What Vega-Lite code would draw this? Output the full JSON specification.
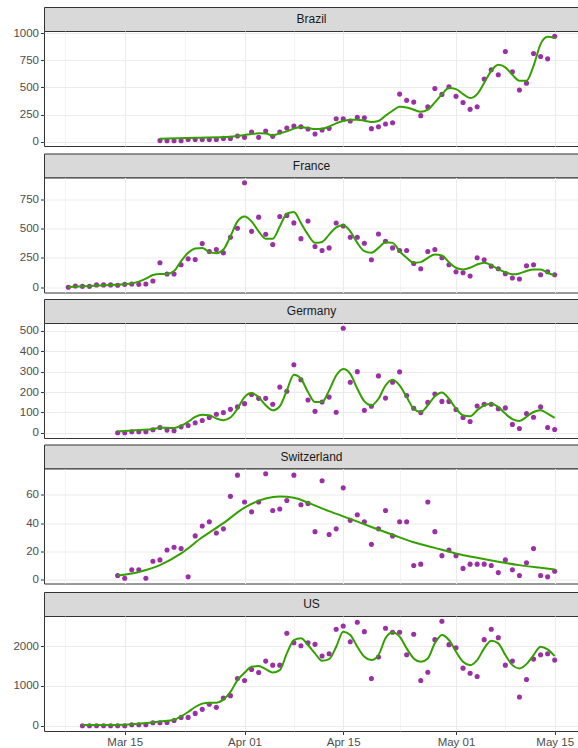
{
  "$schema": "https://vega.github.io/schema/vega-lite/v6.json",
  "padding": {"left": 5, "top": 6, "right": 0, "bottom": 0},
  "config": {
    "font": "Liberation Sans",
    "view": {"stroke": "#333333", "strokeWidth": 1, "fill": "#ffffff"},
    "axis": {"labelFont": "Liberation Sans", "labelFontSize": 11.5, "labelColor": "#4d4d4d", "tickColor": "#333333", "tickSize": 3.5, "labelPadding": 2, "domain": false, "gridColor": "#ebebeb", "labelOverlap": false}
  },
  "datasets": {
    "obs": [
      {"country":"Brazil","date":"2020-03-20","deaths":10},{"country":"Brazil","date":"2020-03-21","deaths":8},{"country":"Brazil","date":"2020-03-22","deaths":8},{"country":"Brazil","date":"2020-03-23","deaths":8},{"country":"Brazil","date":"2020-03-24","deaths":20},{"country":"Brazil","date":"2020-03-25","deaths":20},{"country":"Brazil","date":"2020-03-26","deaths":20},{"country":"Brazil","date":"2020-03-27","deaths":20},{"country":"Brazil","date":"2020-03-28","deaths":20},{"country":"Brazil","date":"2020-03-29","deaths":30},{"country":"Brazil","date":"2020-03-30","deaths":30},{"country":"Brazil","date":"2020-03-31","deaths":52},
      {"country":"Brazil","date":"2020-04-01","deaths":40},{"country":"Brazil","date":"2020-04-02","deaths":89},{"country":"Brazil","date":"2020-04-03","deaths":40},{"country":"Brazil","date":"2020-04-04","deaths":98},{"country":"Brazil","date":"2020-04-05","deaths":49},{"country":"Brazil","date":"2020-04-06","deaths":89},{"country":"Brazil","date":"2020-04-07","deaths":126},{"country":"Brazil","date":"2020-04-08","deaths":144},{"country":"Brazil","date":"2020-04-09","deaths":138},{"country":"Brazil","date":"2020-04-10","deaths":117},{"country":"Brazil","date":"2020-04-11","deaths":71},{"country":"Brazil","date":"2020-04-12","deaths":107},{"country":"Brazil","date":"2020-04-13","deaths":123},{"country":"Brazil","date":"2020-04-14","deaths":212},{"country":"Brazil","date":"2020-04-15","deaths":212},{"country":"Brazil","date":"2020-04-16","deaths":190},{"country":"Brazil","date":"2020-04-17","deaths":224},{"country":"Brazil","date":"2020-04-18","deaths":221},{"country":"Brazil","date":"2020-04-19","deaths":120},{"country":"Brazil","date":"2020-04-20","deaths":138},{"country":"Brazil","date":"2020-04-21","deaths":163},{"country":"Brazil","date":"2020-04-22","deaths":175},{"country":"Brazil","date":"2020-04-23","deaths":439},{"country":"Brazil","date":"2020-04-24","deaths":381},{"country":"Brazil","date":"2020-04-25","deaths":365},{"country":"Brazil","date":"2020-04-26","deaths":240},{"country":"Brazil","date":"2020-04-27","deaths":322},{"country":"Brazil","date":"2020-04-28","deaths":491},{"country":"Brazil","date":"2020-04-29","deaths":436},{"country":"Brazil","date":"2020-04-30","deaths":507},
      {"country":"Brazil","date":"2020-05-01","deaths":418},{"country":"Brazil","date":"2020-05-02","deaths":362},{"country":"Brazil","date":"2020-05-03","deaths":298},{"country":"Brazil","date":"2020-05-04","deaths":322},{"country":"Brazil","date":"2020-05-05","deaths":577},{"country":"Brazil","date":"2020-05-06","deaths":663},{"country":"Brazil","date":"2020-05-07","deaths":617},{"country":"Brazil","date":"2020-05-08","deaths":832},{"country":"Brazil","date":"2020-05-09","deaths":645},{"country":"Brazil","date":"2020-05-10","deaths":476},{"country":"Brazil","date":"2020-05-11","deaths":540},{"country":"Brazil","date":"2020-05-12","deaths":814},{"country":"Brazil","date":"2020-05-13","deaths":786},{"country":"Brazil","date":"2020-05-14","deaths":764},{"country":"Brazil","date":"2020-05-15","deaths":973},

      {"country":"France","date":"2020-03-07","deaths":0},{"country":"France","date":"2020-03-08","deaths":11},{"country":"France","date":"2020-03-09","deaths":8},{"country":"France","date":"2020-03-10","deaths":8},{"country":"France","date":"2020-03-11","deaths":20},{"country":"France","date":"2020-03-12","deaths":20},{"country":"France","date":"2020-03-13","deaths":20},{"country":"France","date":"2020-03-14","deaths":17},{"country":"France","date":"2020-03-15","deaths":25},{"country":"France","date":"2020-03-16","deaths":28},{"country":"France","date":"2020-03-17","deaths":25},{"country":"France","date":"2020-03-18","deaths":28},{"country":"France","date":"2020-03-19","deaths":54},{"country":"France","date":"2020-03-20","deaths":209},{"country":"France","date":"2020-03-21","deaths":113},{"country":"France","date":"2020-03-22","deaths":113},{"country":"France","date":"2020-03-23","deaths":192},{"country":"France","date":"2020-03-24","deaths":242},{"country":"France","date":"2020-03-25","deaths":237},{"country":"France","date":"2020-03-26","deaths":372},{"country":"France","date":"2020-03-27","deaths":304},{"country":"France","date":"2020-03-28","deaths":321},{"country":"France","date":"2020-03-29","deaths":293},{"country":"France","date":"2020-03-30","deaths":426},{"country":"France","date":"2020-03-31","deaths":502},
      {"country":"France","date":"2020-04-01","deaths":890},{"country":"France","date":"2020-04-02","deaths":476},{"country":"France","date":"2020-04-03","deaths":597},{"country":"France","date":"2020-04-04","deaths":451},{"country":"France","date":"2020-04-05","deaths":364},{"country":"France","date":"2020-04-06","deaths":603},{"country":"France","date":"2020-04-07","deaths":612},{"country":"France","date":"2020-04-08","deaths":548},{"country":"France","date":"2020-04-09","deaths":414},{"country":"France","date":"2020-04-10","deaths":564},{"country":"France","date":"2020-04-11","deaths":347},{"country":"France","date":"2020-04-12","deaths":313},{"country":"France","date":"2020-04-13","deaths":335},{"country":"France","date":"2020-04-14","deaths":547},{"country":"France","date":"2020-04-15","deaths":521},{"country":"France","date":"2020-04-16","deaths":426},{"country":"France","date":"2020-04-17","deaths":426},{"country":"France","date":"2020-04-18","deaths":375},{"country":"France","date":"2020-04-19","deaths":234},{"country":"France","date":"2020-04-20","deaths":454},{"country":"France","date":"2020-04-21","deaths":392},{"country":"France","date":"2020-04-22","deaths":335},{"country":"France","date":"2020-04-23","deaths":313},{"country":"France","date":"2020-04-24","deaths":313},{"country":"France","date":"2020-04-25","deaths":203},{"country":"France","date":"2020-04-26","deaths":158},{"country":"France","date":"2020-04-27","deaths":304},{"country":"France","date":"2020-04-28","deaths":321},{"country":"France","date":"2020-04-29","deaths":251},{"country":"France","date":"2020-04-30","deaths":192},
      {"country":"France","date":"2020-05-01","deaths":132},{"country":"France","date":"2020-05-02","deaths":124},{"country":"France","date":"2020-05-03","deaths":96},{"country":"France","date":"2020-05-04","deaths":251},{"country":"France","date":"2020-05-05","deaths":234},{"country":"France","date":"2020-05-06","deaths":180},{"country":"France","date":"2020-05-07","deaths":158},{"country":"France","date":"2020-05-08","deaths":116},{"country":"France","date":"2020-05-09","deaths":79},{"country":"France","date":"2020-05-10","deaths":70},{"country":"France","date":"2020-05-11","deaths":183},{"country":"France","date":"2020-05-12","deaths":192},{"country":"France","date":"2020-05-13","deaths":107},{"country":"France","date":"2020-05-14","deaths":132},{"country":"France","date":"2020-05-15","deaths":107},

      {"country":"Germany","date":"2020-03-14","deaths":0},{"country":"Germany","date":"2020-03-15","deaths":0},{"country":"Germany","date":"2020-03-16","deaths":5},{"country":"Germany","date":"2020-03-17","deaths":5},{"country":"Germany","date":"2020-03-18","deaths":5},{"country":"Germany","date":"2020-03-19","deaths":15},{"country":"Germany","date":"2020-03-20","deaths":26},{"country":"Germany","date":"2020-03-21","deaths":13},{"country":"Germany","date":"2020-03-22","deaths":10},{"country":"Germany","date":"2020-03-23","deaths":29},{"country":"Germany","date":"2020-03-24","deaths":36},{"country":"Germany","date":"2020-03-25","deaths":49},{"country":"Germany","date":"2020-03-26","deaths":60},{"country":"Germany","date":"2020-03-27","deaths":75},{"country":"Germany","date":"2020-03-28","deaths":91},{"country":"Germany","date":"2020-03-29","deaths":99},{"country":"Germany","date":"2020-03-30","deaths":115},{"country":"Germany","date":"2020-03-31","deaths":127},
      {"country":"Germany","date":"2020-04-01","deaths":143},{"country":"Germany","date":"2020-04-02","deaths":188},{"country":"Germany","date":"2020-04-03","deaths":169},{"country":"Germany","date":"2020-04-04","deaths":169},{"country":"Germany","date":"2020-04-05","deaths":140},{"country":"Germany","date":"2020-04-06","deaths":224},{"country":"Germany","date":"2020-04-07","deaths":204},{"country":"Germany","date":"2020-04-08","deaths":334},{"country":"Germany","date":"2020-04-09","deaths":260},{"country":"Germany","date":"2020-04-10","deaths":161},{"country":"Germany","date":"2020-04-11","deaths":105},{"country":"Germany","date":"2020-04-12","deaths":151},{"country":"Germany","date":"2020-04-13","deaths":175},{"country":"Germany","date":"2020-04-14","deaths":101},{"country":"Germany","date":"2020-04-15","deaths":513},{"country":"Germany","date":"2020-04-16","deaths":248},{"country":"Germany","date":"2020-04-17","deaths":300},{"country":"Germany","date":"2020-04-18","deaths":110},{"country":"Germany","date":"2020-04-19","deaths":130},{"country":"Germany","date":"2020-04-20","deaths":279},{"country":"Germany","date":"2020-04-21","deaths":170},{"country":"Germany","date":"2020-04-22","deaths":248},{"country":"Germany","date":"2020-04-23","deaths":299},{"country":"Germany","date":"2020-04-24","deaths":183},{"country":"Germany","date":"2020-04-25","deaths":120},{"country":"Germany","date":"2020-04-26","deaths":99},{"country":"Germany","date":"2020-04-27","deaths":149},{"country":"Germany","date":"2020-04-28","deaths":190},{"country":"Germany","date":"2020-04-29","deaths":154},{"country":"Germany","date":"2020-04-30","deaths":154},
      {"country":"Germany","date":"2020-05-01","deaths":114},{"country":"Germany","date":"2020-05-02","deaths":75},{"country":"Germany","date":"2020-05-03","deaths":55},{"country":"Germany","date":"2020-05-04","deaths":131},{"country":"Germany","date":"2020-05-05","deaths":140},{"country":"Germany","date":"2020-05-06","deaths":140},{"country":"Germany","date":"2020-05-07","deaths":118},{"country":"Germany","date":"2020-05-08","deaths":122},{"country":"Germany","date":"2020-05-09","deaths":41},{"country":"Germany","date":"2020-05-10","deaths":21},{"country":"Germany","date":"2020-05-11","deaths":94},{"country":"Germany","date":"2020-05-12","deaths":76},{"country":"Germany","date":"2020-05-13","deaths":127},{"country":"Germany","date":"2020-05-14","deaths":26},{"country":"Germany","date":"2020-05-15","deaths":16},

      {"country":"Switzerland","date":"2020-03-14","deaths":3},{"country":"Switzerland","date":"2020-03-15","deaths":1},{"country":"Switzerland","date":"2020-03-16","deaths":7},{"country":"Switzerland","date":"2020-03-17","deaths":7},{"country":"Switzerland","date":"2020-03-18","deaths":1},{"country":"Switzerland","date":"2020-03-19","deaths":13},{"country":"Switzerland","date":"2020-03-20","deaths":14},{"country":"Switzerland","date":"2020-03-21","deaths":21},{"country":"Switzerland","date":"2020-03-22","deaths":23},{"country":"Switzerland","date":"2020-03-23","deaths":22},{"country":"Switzerland","date":"2020-03-24","deaths":2},{"country":"Switzerland","date":"2020-03-25","deaths":31},{"country":"Switzerland","date":"2020-03-26","deaths":38},{"country":"Switzerland","date":"2020-03-27","deaths":41},{"country":"Switzerland","date":"2020-03-28","deaths":33},{"country":"Switzerland","date":"2020-03-29","deaths":36},{"country":"Switzerland","date":"2020-03-30","deaths":59},{"country":"Switzerland","date":"2020-03-31","deaths":74},
      {"country":"Switzerland","date":"2020-04-01","deaths":55},{"country":"Switzerland","date":"2020-04-02","deaths":48},{"country":"Switzerland","date":"2020-04-03","deaths":55},{"country":"Switzerland","date":"2020-04-04","deaths":75},{"country":"Switzerland","date":"2020-04-05","deaths":49},{"country":"Switzerland","date":"2020-04-06","deaths":50},{"country":"Switzerland","date":"2020-04-07","deaths":56},{"country":"Switzerland","date":"2020-04-08","deaths":74},{"country":"Switzerland","date":"2020-04-09","deaths":53},{"country":"Switzerland","date":"2020-04-10","deaths":54},{"country":"Switzerland","date":"2020-04-11","deaths":34},{"country":"Switzerland","date":"2020-04-12","deaths":70},{"country":"Switzerland","date":"2020-04-13","deaths":32},{"country":"Switzerland","date":"2020-04-14","deaths":36},{"country":"Switzerland","date":"2020-04-15","deaths":65},{"country":"Switzerland","date":"2020-04-16","deaths":42},{"country":"Switzerland","date":"2020-04-17","deaths":46},{"country":"Switzerland","date":"2020-04-18","deaths":41},{"country":"Switzerland","date":"2020-04-19","deaths":25},{"country":"Switzerland","date":"2020-04-20","deaths":36},{"country":"Switzerland","date":"2020-04-21","deaths":49},{"country":"Switzerland","date":"2020-04-22","deaths":31},{"country":"Switzerland","date":"2020-04-23","deaths":41},{"country":"Switzerland","date":"2020-04-24","deaths":41},{"country":"Switzerland","date":"2020-04-25","deaths":10},{"country":"Switzerland","date":"2020-04-26","deaths":11},{"country":"Switzerland","date":"2020-04-27","deaths":55},{"country":"Switzerland","date":"2020-04-28","deaths":34},{"country":"Switzerland","date":"2020-04-29","deaths":17},{"country":"Switzerland","date":"2020-04-30","deaths":21},
      {"country":"Switzerland","date":"2020-05-01","deaths":17},{"country":"Switzerland","date":"2020-05-02","deaths":8},{"country":"Switzerland","date":"2020-05-03","deaths":11},{"country":"Switzerland","date":"2020-05-04","deaths":11},{"country":"Switzerland","date":"2020-05-05","deaths":11},{"country":"Switzerland","date":"2020-05-06","deaths":10},{"country":"Switzerland","date":"2020-05-07","deaths":5},{"country":"Switzerland","date":"2020-05-08","deaths":14},{"country":"Switzerland","date":"2020-05-09","deaths":7},{"country":"Switzerland","date":"2020-05-10","deaths":3},{"country":"Switzerland","date":"2020-05-11","deaths":12},{"country":"Switzerland","date":"2020-05-12","deaths":22},{"country":"Switzerland","date":"2020-05-13","deaths":3},{"country":"Switzerland","date":"2020-05-14","deaths":2},{"country":"Switzerland","date":"2020-05-15","deaths":6},

      {"country":"US","date":"2020-03-09","deaths":0},{"country":"US","date":"2020-03-10","deaths":0},{"country":"US","date":"2020-03-11","deaths":0},{"country":"US","date":"2020-03-12","deaths":0},{"country":"US","date":"2020-03-13","deaths":0},{"country":"US","date":"2020-03-14","deaths":0},{"country":"US","date":"2020-03-15","deaths":0},{"country":"US","date":"2020-03-16","deaths":25},{"country":"US","date":"2020-03-17","deaths":25},{"country":"US","date":"2020-03-18","deaths":25},{"country":"US","date":"2020-03-19","deaths":76},{"country":"US","date":"2020-03-20","deaths":76},{"country":"US","date":"2020-03-21","deaths":84},{"country":"US","date":"2020-03-22","deaths":134},{"country":"US","date":"2020-03-23","deaths":210},{"country":"US","date":"2020-03-24","deaths":210},{"country":"US","date":"2020-03-25","deaths":311},{"country":"US","date":"2020-03-26","deaths":412},{"country":"US","date":"2020-03-27","deaths":538},{"country":"US","date":"2020-03-28","deaths":462},{"country":"US","date":"2020-03-29","deaths":697},{"country":"US","date":"2020-03-30","deaths":756},{"country":"US","date":"2020-03-31","deaths":1185},
      {"country":"US","date":"2020-04-01","deaths":1134},{"country":"US","date":"2020-04-02","deaths":1412},{"country":"US","date":"2020-04-03","deaths":1336},{"country":"US","date":"2020-04-04","deaths":1622},{"country":"US","date":"2020-04-05","deaths":1521},{"country":"US","date":"2020-04-06","deaths":1521},{"country":"US","date":"2020-04-07","deaths":2319},{"country":"US","date":"2020-04-08","deaths":2084},{"country":"US","date":"2020-04-09","deaths":2008},{"country":"US","date":"2020-04-10","deaths":2084},{"country":"US","date":"2020-04-11","deaths":2042},{"country":"US","date":"2020-04-12","deaths":1748},{"country":"US","date":"2020-04-13","deaths":1807},{"country":"US","date":"2020-04-14","deaths":2420},{"country":"US","date":"2020-04-15","deaths":2504},{"country":"US","date":"2020-04-16","deaths":2109},{"country":"US","date":"2020-04-17","deaths":2597},{"country":"US","date":"2020-04-18","deaths":2361},{"country":"US","date":"2020-04-19","deaths":1185},{"country":"US","date":"2020-04-20","deaths":1723},{"country":"US","date":"2020-04-21","deaths":2445},{"country":"US","date":"2020-04-22","deaths":2344},{"country":"US","date":"2020-04-23","deaths":2344},{"country":"US","date":"2020-04-24","deaths":1781},{"country":"US","date":"2020-04-25","deaths":2294},{"country":"US","date":"2020-04-26","deaths":1134},{"country":"US","date":"2020-04-27","deaths":1344},{"country":"US","date":"2020-04-28","deaths":2160},{"country":"US","date":"2020-04-29","deaths":2622},{"country":"US","date":"2020-04-30","deaths":2034},
      {"country":"US","date":"2020-05-01","deaths":1958},{"country":"US","date":"2020-05-02","deaths":1445},{"country":"US","date":"2020-05-03","deaths":1319},{"country":"US","date":"2020-05-04","deaths":1235},{"country":"US","date":"2020-05-05","deaths":2160},{"country":"US","date":"2020-05-06","deaths":2420},{"country":"US","date":"2020-05-07","deaths":2210},{"country":"US","date":"2020-05-08","deaths":1521},{"country":"US","date":"2020-05-09","deaths":1622},{"country":"US","date":"2020-05-10","deaths":723},{"country":"US","date":"2020-05-11","deaths":1160},{"country":"US","date":"2020-05-12","deaths":1672},{"country":"US","date":"2020-05-13","deaths":1781},{"country":"US","date":"2020-05-14","deaths":1807},{"country":"US","date":"2020-05-15","deaths":1647}
    ],
    "fit": [
      {"country":"Brazil","date":"2020-03-20","fit":28},{"country":"Brazil","date":"2020-03-25","fit":37},{"country":"Brazil","date":"2020-03-30","fit":46},{"country":"Brazil","date":"2020-04-01","fit":61},{"country":"Brazil","date":"2020-04-02","fit":70},{"country":"Brazil","date":"2020-04-03","fit":77},{"country":"Brazil","date":"2020-04-04","fit":75},{"country":"Brazil","date":"2020-04-05","fit":58},{"country":"Brazil","date":"2020-04-06","fit":77},{"country":"Brazil","date":"2020-04-07","fit":95},{"country":"Brazil","date":"2020-04-08","fit":120},{"country":"Brazil","date":"2020-04-09","fit":132},{"country":"Brazil","date":"2020-04-10","fit":126},{"country":"Brazil","date":"2020-04-11","fit":117},{"country":"Brazil","date":"2020-04-12","fit":120},{"country":"Brazil","date":"2020-04-13","fit":138},{"country":"Brazil","date":"2020-04-14","fit":169},{"country":"Brazil","date":"2020-04-15","fit":190},{"country":"Brazil","date":"2020-04-16","fit":203},{"country":"Brazil","date":"2020-04-17","fit":203},{"country":"Brazil","date":"2020-04-18","fit":193},{"country":"Brazil","date":"2020-04-19","fit":181},{"country":"Brazil","date":"2020-04-20","fit":190},{"country":"Brazil","date":"2020-04-21","fit":240},{"country":"Brazil","date":"2020-04-22","fit":285},{"country":"Brazil","date":"2020-04-23","fit":322},{"country":"Brazil","date":"2020-04-24","fit":316},{"country":"Brazil","date":"2020-04-25","fit":295},{"country":"Brazil","date":"2020-04-26","fit":276},{"country":"Brazil","date":"2020-04-27","fit":295},{"country":"Brazil","date":"2020-04-28","fit":362},{"country":"Brazil","date":"2020-04-29","fit":436},{"country":"Brazil","date":"2020-04-30","fit":494},{"country":"Brazil","date":"2020-05-01","fit":485},{"country":"Brazil","date":"2020-05-02","fit":439},{"country":"Brazil","date":"2020-05-03","fit":402},{"country":"Brazil","date":"2020-05-04","fit":439},{"country":"Brazil","date":"2020-05-05","fit":543},{"country":"Brazil","date":"2020-05-06","fit":654},{"country":"Brazil","date":"2020-05-07","fit":709},{"country":"Brazil","date":"2020-05-08","fit":685},{"country":"Brazil","date":"2020-05-09","fit":617},{"country":"Brazil","date":"2020-05-10","fit":562},{"country":"Brazil","date":"2020-05-11","fit":562},{"country":"Brazil","date":"2020-05-12","fit":700},{"country":"Brazil","date":"2020-05-13","fit":900},{"country":"Brazil","date":"2020-05-14","fit":967},{"country":"Brazil","date":"2020-05-15","fit":955},

      {"country":"France","date":"2020-03-07","fit":3},{"country":"France","date":"2020-03-10","fit":11},{"country":"France","date":"2020-03-13","fit":20},{"country":"France","date":"2020-03-15","fit":25},{"country":"France","date":"2020-03-17","fit":48},{"country":"France","date":"2020-03-18","fit":73},{"country":"France","date":"2020-03-19","fit":104},{"country":"France","date":"2020-03-20","fit":113},{"country":"France","date":"2020-03-21","fit":113},{"country":"France","date":"2020-03-22","fit":138},{"country":"France","date":"2020-03-23","fit":223},{"country":"France","date":"2020-03-24","fit":293},{"country":"France","date":"2020-03-25","fit":330},{"country":"France","date":"2020-03-26","fit":335},{"country":"France","date":"2020-03-27","fit":299},{"country":"France","date":"2020-03-28","fit":290},{"country":"France","date":"2020-03-29","fit":321},{"country":"France","date":"2020-03-30","fit":434},{"country":"France","date":"2020-03-31","fit":561},{"country":"France","date":"2020-04-01","fit":603},{"country":"France","date":"2020-04-02","fit":561},{"country":"France","date":"2020-04-03","fit":476},{"country":"France","date":"2020-04-04","fit":414},{"country":"France","date":"2020-04-05","fit":414},{"country":"France","date":"2020-04-06","fit":518},{"country":"France","date":"2020-04-07","fit":626},{"country":"France","date":"2020-04-08","fit":640},{"country":"France","date":"2020-04-09","fit":547},{"country":"France","date":"2020-04-10","fit":448},{"country":"France","date":"2020-04-11","fit":378},{"country":"France","date":"2020-04-12","fit":386},{"country":"France","date":"2020-04-13","fit":448},{"country":"France","date":"2020-04-14","fit":510},{"country":"France","date":"2020-04-15","fit":527},{"country":"France","date":"2020-04-16","fit":476},{"country":"France","date":"2020-04-17","fit":378},{"country":"France","date":"2020-04-18","fit":307},{"country":"France","date":"2020-04-19","fit":293},{"country":"France","date":"2020-04-20","fit":335},{"country":"France","date":"2020-04-21","fit":383},{"country":"France","date":"2020-04-22","fit":378},{"country":"France","date":"2020-04-23","fit":307},{"country":"France","date":"2020-04-24","fit":251},{"country":"France","date":"2020-04-25","fit":209},{"country":"France","date":"2020-04-26","fit":214},{"country":"France","date":"2020-04-27","fit":251},{"country":"France","date":"2020-04-28","fit":279},{"country":"France","date":"2020-04-29","fit":271},{"country":"France","date":"2020-04-30","fit":214},{"country":"France","date":"2020-05-01","fit":166},{"country":"France","date":"2020-05-02","fit":152},{"country":"France","date":"2020-05-03","fit":166},{"country":"France","date":"2020-05-04","fit":194},{"country":"France","date":"2020-05-05","fit":209},{"country":"France","date":"2020-05-06","fit":189},{"country":"France","date":"2020-05-07","fit":152},{"country":"France","date":"2020-05-08","fit":130},{"country":"France","date":"2020-05-09","fit":110},{"country":"France","date":"2020-05-10","fit":118},{"country":"France","date":"2020-05-11","fit":138},{"country":"France","date":"2020-05-12","fit":152},{"country":"France","date":"2020-05-13","fit":152},{"country":"France","date":"2020-05-14","fit":124},{"country":"France","date":"2020-05-15","fit":101},

      {"country":"Germany","date":"2020-03-14","fit":6},{"country":"Germany","date":"2020-03-17","fit":13},{"country":"Germany","date":"2020-03-19","fit":18},{"country":"Germany","date":"2020-03-20","fit":24},{"country":"Germany","date":"2020-03-21","fit":24},{"country":"Germany","date":"2020-03-22","fit":23},{"country":"Germany","date":"2020-03-23","fit":34},{"country":"Germany","date":"2020-03-24","fit":54},{"country":"Germany","date":"2020-03-25","fit":78},{"country":"Germany","date":"2020-03-26","fit":89},{"country":"Germany","date":"2020-03-27","fit":86},{"country":"Germany","date":"2020-03-28","fit":70},{"country":"Germany","date":"2020-03-29","fit":62},{"country":"Germany","date":"2020-03-30","fit":75},{"country":"Germany","date":"2020-03-31","fit":118},{"country":"Germany","date":"2020-04-01","fit":175},{"country":"Germany","date":"2020-04-02","fit":195},{"country":"Germany","date":"2020-04-03","fit":175},{"country":"Germany","date":"2020-04-04","fit":135},{"country":"Germany","date":"2020-04-05","fit":110},{"country":"Germany","date":"2020-04-06","fit":130},{"country":"Germany","date":"2020-04-07","fit":208},{"country":"Germany","date":"2020-04-08","fit":285},{"country":"Germany","date":"2020-04-09","fit":265},{"country":"Germany","date":"2020-04-10","fit":200},{"country":"Germany","date":"2020-04-11","fit":151},{"country":"Germany","date":"2020-04-12","fit":151},{"country":"Germany","date":"2020-04-13","fit":208},{"country":"Germany","date":"2020-04-14","fit":281},{"country":"Germany","date":"2020-04-15","fit":313},{"country":"Germany","date":"2020-04-16","fit":289},{"country":"Germany","date":"2020-04-17","fit":216},{"country":"Germany","date":"2020-04-18","fit":154},{"country":"Germany","date":"2020-04-19","fit":135},{"country":"Germany","date":"2020-04-20","fit":167},{"country":"Germany","date":"2020-04-21","fit":232},{"country":"Germany","date":"2020-04-22","fit":260},{"country":"Germany","date":"2020-04-23","fit":232},{"country":"Germany","date":"2020-04-24","fit":175},{"country":"Germany","date":"2020-04-25","fit":118},{"country":"Germany","date":"2020-04-26","fit":102},{"country":"Germany","date":"2020-04-27","fit":135},{"country":"Germany","date":"2020-04-28","fit":179},{"country":"Germany","date":"2020-04-29","fit":198},{"country":"Germany","date":"2020-04-30","fit":167},{"country":"Germany","date":"2020-05-01","fit":118},{"country":"Germany","date":"2020-05-02","fit":86},{"country":"Germany","date":"2020-05-03","fit":81},{"country":"Germany","date":"2020-05-04","fit":110},{"country":"Germany","date":"2020-05-05","fit":135},{"country":"Germany","date":"2020-05-06","fit":143},{"country":"Germany","date":"2020-05-07","fit":127},{"country":"Germany","date":"2020-05-08","fit":94},{"country":"Germany","date":"2020-05-09","fit":67},{"country":"Germany","date":"2020-05-10","fit":58},{"country":"Germany","date":"2020-05-11","fit":78},{"country":"Germany","date":"2020-05-12","fit":102},{"country":"Germany","date":"2020-05-13","fit":110},{"country":"Germany","date":"2020-05-14","fit":94},{"country":"Germany","date":"2020-05-15","fit":73},

      {"country":"Switzerland","date":"2020-03-14","fit":2.9},{"country":"Switzerland","date":"2020-03-17","fit":5.5},{"country":"Switzerland","date":"2020-03-20","fit":10.3},{"country":"Switzerland","date":"2020-03-23","fit":18.6},{"country":"Switzerland","date":"2020-03-26","fit":30},{"country":"Switzerland","date":"2020-03-29","fit":40},{"country":"Switzerland","date":"2020-04-01","fit":51},{"country":"Switzerland","date":"2020-04-04","fit":57.4},{"country":"Switzerland","date":"2020-04-06","fit":58.8},{"country":"Switzerland","date":"2020-04-08","fit":58},{"country":"Switzerland","date":"2020-04-10","fit":54.5},{"country":"Switzerland","date":"2020-04-13","fit":48.5},{"country":"Switzerland","date":"2020-04-16","fit":43},{"country":"Switzerland","date":"2020-04-19","fit":37.3},{"country":"Switzerland","date":"2020-04-22","fit":31.8},{"country":"Switzerland","date":"2020-04-25","fit":26.5},{"country":"Switzerland","date":"2020-04-28","fit":22.5},{"country":"Switzerland","date":"2020-05-01","fit":18.6},{"country":"Switzerland","date":"2020-05-04","fit":15.5},{"country":"Switzerland","date":"2020-05-07","fit":12.7},{"country":"Switzerland","date":"2020-05-10","fit":10.3},{"country":"Switzerland","date":"2020-05-13","fit":8.4},{"country":"Switzerland","date":"2020-05-15","fit":7.2},

      {"country":"US","date":"2020-03-09","fit":17},{"country":"US","date":"2020-03-12","fit":20},{"country":"US","date":"2020-03-15","fit":25},{"country":"US","date":"2020-03-18","fit":67},{"country":"US","date":"2020-03-20","fit":109},{"country":"US","date":"2020-03-22","fit":151},{"country":"US","date":"2020-03-23","fit":235},{"country":"US","date":"2020-03-24","fit":345},{"country":"US","date":"2020-03-25","fit":471},{"country":"US","date":"2020-03-26","fit":555},{"country":"US","date":"2020-03-27","fit":580},{"country":"US","date":"2020-03-28","fit":580},{"country":"US","date":"2020-03-29","fit":655},{"country":"US","date":"2020-03-30","fit":849},{"country":"US","date":"2020-03-31","fit":1143},{"country":"US","date":"2020-04-01","fit":1328},{"country":"US","date":"2020-04-02","fit":1479},{"country":"US","date":"2020-04-03","fit":1496},{"country":"US","date":"2020-04-04","fit":1420},{"country":"US","date":"2020-04-05","fit":1336},{"country":"US","date":"2020-04-06","fit":1395},{"country":"US","date":"2020-04-07","fit":1815},{"country":"US","date":"2020-04-08","fit":2150},{"country":"US","date":"2020-04-09","fit":2193},{"country":"US","date":"2020-04-10","fit":2025},{"country":"US","date":"2020-04-11","fit":1815},{"country":"US","date":"2020-04-12","fit":1630},{"country":"US","date":"2020-04-13","fit":1672},{"country":"US","date":"2020-04-14","fit":1983},{"country":"US","date":"2020-04-15","fit":2361},{"country":"US","date":"2020-04-16","fit":2277},{"country":"US","date":"2020-04-17","fit":1983},{"country":"US","date":"2020-04-18","fit":1731},{"country":"US","date":"2020-04-19","fit":1647},{"country":"US","date":"2020-04-20","fit":1773},{"country":"US","date":"2020-04-21","fit":2193},{"country":"US","date":"2020-04-22","fit":2344},{"country":"US","date":"2020-04-23","fit":2235},{"country":"US","date":"2020-04-24","fit":1941},{"country":"US","date":"2020-04-25","fit":1689},{"country":"US","date":"2020-04-26","fit":1605},{"country":"US","date":"2020-04-27","fit":1689},{"country":"US","date":"2020-04-28","fit":2067},{"country":"US","date":"2020-04-29","fit":2277},{"country":"US","date":"2020-04-30","fit":2151},{"country":"US","date":"2020-05-01","fit":1857},{"country":"US","date":"2020-05-02","fit":1605},{"country":"US","date":"2020-05-03","fit":1521},{"country":"US","date":"2020-05-04","fit":1647},{"country":"US","date":"2020-05-05","fit":1941},{"country":"US","date":"2020-05-06","fit":2134},{"country":"US","date":"2020-05-07","fit":2067},{"country":"US","date":"2020-05-08","fit":1773},{"country":"US","date":"2020-05-09","fit":1521},{"country":"US","date":"2020-05-10","fit":1437},{"country":"US","date":"2020-05-11","fit":1546},{"country":"US","date":"2020-05-12","fit":1773},{"country":"US","date":"2020-05-13","fit":1983},{"country":"US","date":"2020-05-14","fit":1916},{"country":"US","date":"2020-05-15","fit":1748}
    ]
  },
  "spacing": 4.5,
  "vconcat": [
    {"spacing": 0, "bounds": "flush", "vconcat": [
      {"width": 535, "height": 24, "view": {"fill": "#d9d9d9", "stroke": "#333333"}, "data": {"name": "obs"}, "transform": [{"filter": "datum.country === 'Brazil'"}, {"aggregate": [{"op": "count", "as": "n"}], "groupby": ["country"]}], "mark": {"type": "text", "fontSize": 12, "color": "#1a1a1a"}, "encoding": {"text": {"field": "country"}}},
      {"width": 535, "height": 115, "resolve": {"axis": {"y": "independent"}}, "layer": [
        {"data": {"name": "obs"}, "transform": [{"filter": "datum.country === 'Brazil'"}], "mark": {"type": "circle", "color": "#9b30a6", "size": 26, "opacity": 1},
         "encoding": {
          "x": {"field": "date", "type": "temporal", "title": null, "scale": {"type": "utc", "domain": [{"year":2020,"month":3,"date":3,"hours":13,"minutes":12,"utc":true},{"year":2020,"month":5,"date":18,"hours":10,"minutes":48,"utc":true}]}, "axis": {"values": [{"year":2020,"month":3,"date":6,"hours":12,"utc":true},{"year":2020,"month":3,"date":15,"utc":true},{"year":2020,"month":3,"date":23,"hours":12,"utc":true},{"year":2020,"month":4,"date":1,"utc":true},{"year":2020,"month":4,"date":8,"utc":true},{"year":2020,"month":4,"date":15,"utc":true},{"year":2020,"month":4,"date":23,"utc":true},{"year":2020,"month":5,"date":1,"utc":true},{"year":2020,"month":5,"date":8,"utc":true},{"year":2020,"month":5,"date":15,"utc":true}], "labels": false, "ticks": false, "gridWidth": {"condition": {"test": "utcdate(datum.value) === 1 || utcdate(datum.value) === 15", "value": 1.1}, "value": 0.55}}},
          "y": {"field": "deaths", "type": "quantitative", "title": null, "scale": {"domain": [-40, 1021], "nice": false, "zero": false}, "axis": {"values": [0,250,500,750,1000], "format": "d", "gridWidth": 1.1, "minExtent": 38, "maxExtent": 38}}
         }},
        {"data": {"name": "fit"}, "transform": [{"filter": "datum.country === 'Brazil'"}], "mark": {"type": "line", "color": "#33a000", "strokeWidth": 2, "interpolate": "monotone"},
         "encoding": {"x": {"field": "date", "type": "temporal", "title": null}, "y": {"field": "fit", "type": "quantitative", "title": null, "axis": {"orient": "right", "values": [125,375,625,875], "labels": false, "ticks": false, "domain": false, "gridWidth": 0.55, "minExtent": 0, "maxExtent": 0}}}}
      ]}
    ]},
    {"spacing": 0, "bounds": "flush", "vconcat": [
      {"width": 535, "height": 24, "view": {"fill": "#d9d9d9", "stroke": "#333333"}, "data": {"name": "obs"}, "transform": [{"filter": "datum.country === 'France'"}, {"aggregate": [{"op": "count", "as": "n"}], "groupby": ["country"]}], "mark": {"type": "text", "fontSize": 12, "color": "#1a1a1a"}, "encoding": {"text": {"field": "country"}}},
      {"width": 535, "height": 115, "resolve": {"axis": {"y": "independent"}}, "layer": [
        {"data": {"name": "obs"}, "transform": [{"filter": "datum.country === 'France'"}], "mark": {"type": "circle", "color": "#9b30a6", "size": 26, "opacity": 1},
         "encoding": {
          "x": {"field": "date", "type": "temporal", "title": null, "scale": {"type": "utc", "domain": [{"year":2020,"month":3,"date":3,"hours":13,"minutes":12,"utc":true},{"year":2020,"month":5,"date":18,"hours":10,"minutes":48,"utc":true}]}, "axis": {"values": [{"year":2020,"month":3,"date":6,"hours":12,"utc":true},{"year":2020,"month":3,"date":15,"utc":true},{"year":2020,"month":3,"date":23,"hours":12,"utc":true},{"year":2020,"month":4,"date":1,"utc":true},{"year":2020,"month":4,"date":8,"utc":true},{"year":2020,"month":4,"date":15,"utc":true},{"year":2020,"month":4,"date":23,"utc":true},{"year":2020,"month":5,"date":1,"utc":true},{"year":2020,"month":5,"date":8,"utc":true},{"year":2020,"month":5,"date":15,"utc":true}], "labels": false, "ticks": false, "gridWidth": {"condition": {"test": "utcdate(datum.value) === 1 || utcdate(datum.value) === 15", "value": 1.1}, "value": 0.55}}},
          "y": {"field": "deaths", "type": "quantitative", "title": null, "scale": {"domain": [-44.5, 934.5], "nice": false, "zero": false}, "axis": {"values": [0,250,500,750], "format": "d", "gridWidth": 1.1, "minExtent": 38, "maxExtent": 38}}
         }},
        {"data": {"name": "fit"}, "transform": [{"filter": "datum.country === 'France'"}], "mark": {"type": "line", "color": "#33a000", "strokeWidth": 2, "interpolate": "monotone"},
         "encoding": {"x": {"field": "date", "type": "temporal", "title": null}, "y": {"field": "fit", "type": "quantitative", "title": null, "axis": {"orient": "right", "values": [125,375,625,875], "labels": false, "ticks": false, "domain": false, "gridWidth": 0.55, "minExtent": 0, "maxExtent": 0}}}}
      ]}
    ]},
    {"spacing": 0, "bounds": "flush", "vconcat": [
      {"width": 535, "height": 24, "view": {"fill": "#d9d9d9", "stroke": "#333333"}, "data": {"name": "obs"}, "transform": [{"filter": "datum.country === 'Germany'"}, {"aggregate": [{"op": "count", "as": "n"}], "groupby": ["country"]}], "mark": {"type": "text", "fontSize": 12, "color": "#1a1a1a"}, "encoding": {"text": {"field": "country"}}},
      {"width": 535, "height": 115, "resolve": {"axis": {"y": "independent"}}, "layer": [
        {"data": {"name": "obs"}, "transform": [{"filter": "datum.country === 'Germany'"}], "mark": {"type": "circle", "color": "#9b30a6", "size": 26, "opacity": 1},
         "encoding": {
          "x": {"field": "date", "type": "temporal", "title": null, "scale": {"type": "utc", "domain": [{"year":2020,"month":3,"date":3,"hours":13,"minutes":12,"utc":true},{"year":2020,"month":5,"date":18,"hours":10,"minutes":48,"utc":true}]}, "axis": {"values": [{"year":2020,"month":3,"date":6,"hours":12,"utc":true},{"year":2020,"month":3,"date":15,"utc":true},{"year":2020,"month":3,"date":23,"hours":12,"utc":true},{"year":2020,"month":4,"date":1,"utc":true},{"year":2020,"month":4,"date":8,"utc":true},{"year":2020,"month":4,"date":15,"utc":true},{"year":2020,"month":4,"date":23,"utc":true},{"year":2020,"month":5,"date":1,"utc":true},{"year":2020,"month":5,"date":8,"utc":true},{"year":2020,"month":5,"date":15,"utc":true}], "labels": false, "ticks": false, "gridWidth": {"condition": {"test": "utcdate(datum.value) === 1 || utcdate(datum.value) === 15", "value": 1.1}, "value": 0.55}}},
          "y": {"field": "deaths", "type": "quantitative", "title": null, "scale": {"domain": [-25.7, 538.7], "nice": false, "zero": false}, "axis": {"values": [0,100,200,300,400,500], "format": "d", "gridWidth": 1.1, "minExtent": 38, "maxExtent": 38}}
         }},
        {"data": {"name": "fit"}, "transform": [{"filter": "datum.country === 'Germany'"}], "mark": {"type": "line", "color": "#33a000", "strokeWidth": 2, "interpolate": "monotone"},
         "encoding": {"x": {"field": "date", "type": "temporal", "title": null}, "y": {"field": "fit", "type": "quantitative", "title": null, "axis": {"orient": "right", "values": [50,150,250,350,450], "labels": false, "ticks": false, "domain": false, "gridWidth": 0.55, "minExtent": 0, "maxExtent": 0}}}}
      ]}
    ]},
    {"spacing": 0, "bounds": "flush", "vconcat": [
      {"width": 535, "height": 24, "view": {"fill": "#d9d9d9", "stroke": "#333333"}, "data": {"name": "obs"}, "transform": [{"filter": "datum.country === 'Switzerland'"}, {"aggregate": [{"op": "count", "as": "n"}], "groupby": ["country"]}], "mark": {"type": "text", "fontSize": 12, "color": "#1a1a1a"}, "encoding": {"text": {"field": "country"}}},
      {"width": 535, "height": 115, "resolve": {"axis": {"y": "independent"}}, "layer": [
        {"data": {"name": "obs"}, "transform": [{"filter": "datum.country === 'Switzerland'"}], "mark": {"type": "circle", "color": "#9b30a6", "size": 26, "opacity": 1},
         "encoding": {
          "x": {"field": "date", "type": "temporal", "title": null, "scale": {"type": "utc", "domain": [{"year":2020,"month":3,"date":3,"hours":13,"minutes":12,"utc":true},{"year":2020,"month":5,"date":18,"hours":10,"minutes":48,"utc":true}]}, "axis": {"values": [{"year":2020,"month":3,"date":6,"hours":12,"utc":true},{"year":2020,"month":3,"date":15,"utc":true},{"year":2020,"month":3,"date":23,"hours":12,"utc":true},{"year":2020,"month":4,"date":1,"utc":true},{"year":2020,"month":4,"date":8,"utc":true},{"year":2020,"month":4,"date":15,"utc":true},{"year":2020,"month":4,"date":23,"utc":true},{"year":2020,"month":5,"date":1,"utc":true},{"year":2020,"month":5,"date":8,"utc":true},{"year":2020,"month":5,"date":15,"utc":true}], "labels": false, "ticks": false, "gridWidth": {"condition": {"test": "utcdate(datum.value) === 1 || utcdate(datum.value) === 15", "value": 1.1}, "value": 0.55}}},
          "y": {"field": "deaths", "type": "quantitative", "title": null, "scale": {"domain": [-2.7, 78.7], "nice": false, "zero": false}, "axis": {"values": [0,20,40,60], "format": "d", "gridWidth": 1.1, "minExtent": 38, "maxExtent": 38}}
         }},
        {"data": {"name": "fit"}, "transform": [{"filter": "datum.country === 'Switzerland'"}], "mark": {"type": "line", "color": "#33a000", "strokeWidth": 2, "interpolate": "monotone"},
         "encoding": {"x": {"field": "date", "type": "temporal", "title": null}, "y": {"field": "fit", "type": "quantitative", "title": null, "axis": {"orient": "right", "values": [10,30,50,70], "labels": false, "ticks": false, "domain": false, "gridWidth": 0.55, "minExtent": 0, "maxExtent": 0}}}}
      ]}
    ]},
    {"spacing": 0, "bounds": "flush", "vconcat": [
      {"width": 535, "height": 24, "view": {"fill": "#d9d9d9", "stroke": "#333333"}, "data": {"name": "obs"}, "transform": [{"filter": "datum.country === 'US'"}, {"aggregate": [{"op": "count", "as": "n"}], "groupby": ["country"]}], "mark": {"type": "text", "fontSize": 12, "color": "#1a1a1a"}, "encoding": {"text": {"field": "country"}}},
      {"width": 535, "height": 115, "resolve": {"axis": {"y": "independent"}}, "layer": [
        {"data": {"name": "obs"}, "transform": [{"filter": "datum.country === 'US'"}], "mark": {"type": "circle", "color": "#9b30a6", "size": 26, "opacity": 1},
         "encoding": {
          "x": {"field": "date", "type": "temporal", "title": null, "scale": {"type": "utc", "domain": [{"year":2020,"month":3,"date":3,"hours":13,"minutes":12,"utc":true},{"year":2020,"month":5,"date":18,"hours":10,"minutes":48,"utc":true}]}, "axis": {"values": [{"year":2020,"month":3,"date":6,"hours":12,"utc":true},{"year":2020,"month":3,"date":15,"utc":true},{"year":2020,"month":3,"date":23,"hours":12,"utc":true},{"year":2020,"month":4,"date":1,"utc":true},{"year":2020,"month":4,"date":8,"utc":true},{"year":2020,"month":4,"date":15,"utc":true},{"year":2020,"month":4,"date":23,"utc":true},{"year":2020,"month":5,"date":1,"utc":true},{"year":2020,"month":5,"date":8,"utc":true},{"year":2020,"month":5,"date":15,"utc":true}], "labelOverlap": false, "labelExpr": "(utcdate(datum.value) === 1 || utcdate(datum.value) === 15) ? utcFormat(datum.value, '%b %d') : ''", "tickOpacity": {"condition": {"test": "utcdate(datum.value) === 1 || utcdate(datum.value) === 15", "value": 1}, "value": 0}, "gridWidth": {"condition": {"test": "utcdate(datum.value) === 1 || utcdate(datum.value) === 15", "value": 1.1}, "value": 0.55}}},
          "y": {"field": "deaths", "type": "quantitative", "title": null, "scale": {"domain": [-131, 2753], "nice": false, "zero": false}, "axis": {"values": [0,1000,2000], "format": "d", "gridWidth": 1.1, "minExtent": 38, "maxExtent": 38}}
         }},
        {"data": {"name": "fit"}, "transform": [{"filter": "datum.country === 'US'"}], "mark": {"type": "line", "color": "#33a000", "strokeWidth": 2, "interpolate": "monotone"},
         "encoding": {"x": {"field": "date", "type": "temporal", "title": null}, "y": {"field": "fit", "type": "quantitative", "title": null, "axis": {"orient": "right", "values": [500,1500,2500], "labels": false, "ticks": false, "domain": false, "gridWidth": 0.55, "minExtent": 0, "maxExtent": 0}}}}
      ]}
    ]}
  ]
}
